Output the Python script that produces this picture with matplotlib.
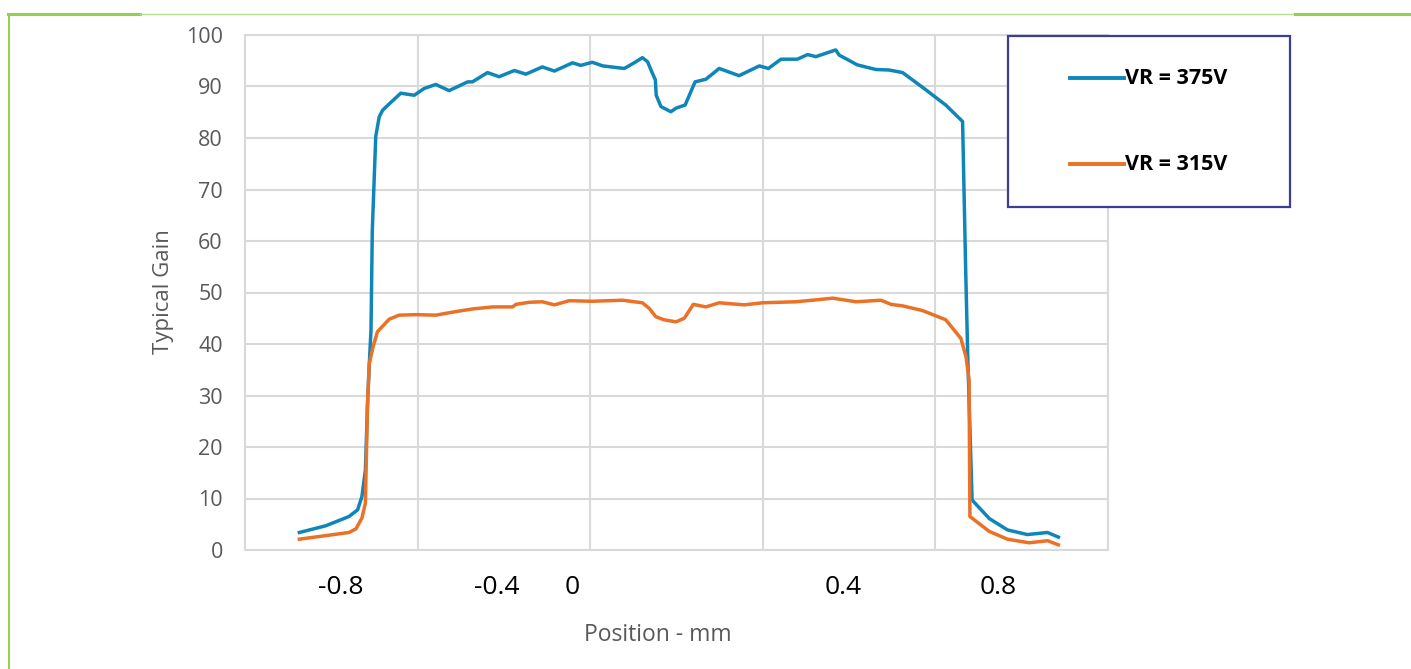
import matplotlib
matplotlib.use("Agg")
import matplotlib.pyplot as plt
from matplotlib.lines import Line2D
from matplotlib.patches import Rectangle

# ---- data (position in mm, gain) ----
x_375 = [-0.674, -0.613, -0.559, -0.539, -0.529, -0.521, -0.516, -0.512, -0.508, -0.505,
         -0.497, -0.489, -0.481, -0.466, -0.439, -0.408, -0.385, -0.358, -0.327, -0.304,
         -0.284, -0.273, -0.238, -0.211, -0.176, -0.149, -0.111, -0.083, -0.041, -0.022,
         0.005, 0.029, 0.079, 0.102, 0.121, 0.133, 0.144, 0.151, 0.153, 0.164,
         0.187, 0.199, 0.220, 0.243, 0.268, 0.299, 0.345, 0.392, 0.413, 0.442,
         0.480, 0.504, 0.523, 0.569, 0.577, 0.619, 0.662, 0.693, 0.724, 0.774,
         0.824, 0.863, 0.870, 0.875, 0.885, 0.925, 0.967, 1.013, 1.060, 1.085]
g_375 = [3.4, 4.7, 6.5, 7.8, 10.4, 15.5, 28.5, 36.0, 42.7, 62.0,
         80.3, 84.1, 85.4, 86.6, 88.7, 88.3, 89.6, 90.4, 89.2, 90.1,
         90.9, 90.9, 92.7, 91.9, 93.1, 92.4, 93.8, 93.0, 94.6, 94.1,
         94.7, 94.0, 93.5, 94.6, 95.6, 94.8, 92.6, 91.3, 88.3, 86.1,
         85.1, 85.8, 86.4, 90.9, 91.4, 93.5, 92.1, 94.0, 93.5, 95.3,
         95.3, 96.2, 95.8, 97.1, 96.1, 94.2, 93.3, 93.2, 92.7, 89.6,
         86.4, 83.2, 55.0, 37.5, 9.7, 6.1, 3.9, 3.0, 3.4, 2.5]

x_315 = [-0.674, -0.559, -0.543, -0.529, -0.521, -0.516, -0.512, -0.503, -0.493, -0.466,
         -0.443, -0.404, -0.358, -0.311, -0.273, -0.226, -0.180, -0.172, -0.141, -0.111,
         -0.083, -0.049, 0.005, 0.075, 0.121, 0.137, 0.152, 0.171, 0.199, 0.218,
         0.239, 0.268, 0.299, 0.357, 0.399, 0.477, 0.515, 0.562, 0.616, 0.674,
         0.697, 0.724, 0.770, 0.824, 0.859, 0.871, 0.878, 0.880, 0.925, 0.967,
         1.017, 1.060, 1.085]
g_315 = [2.1, 3.4, 4.1, 6.2, 9.1, 28.5, 36.2, 39.5, 42.4, 44.8,
         45.6, 45.7, 45.6, 46.3, 46.8, 47.2, 47.2, 47.7, 48.1, 48.2,
         47.6, 48.4, 48.3, 48.5, 48.0, 46.9, 45.3, 44.7, 44.3, 45.0,
         47.7, 47.2, 48.0, 47.6, 48.0, 48.2, 48.5, 48.9, 48.2, 48.5,
         47.7, 47.4, 46.5, 44.7, 41.1, 37.5, 33.0, 6.5, 3.6, 2.1,
         1.4, 1.8, 1.0]

series_labels = ["VR = 375V", "VR = 315V"]
xtick_labels = ["-0.8", "-0.4", "0", "0.4", "0.8"]
xtick_label_pos = [-0.578, -0.216, -0.041, 0.587, 0.946]
y_ticks = list(range(0, 101, 10))

BLUE = "#0f86b9"
ORANGE = "#ea7125"
GRID = "#d9d9d9"
GRAY = "#595959"
GREEN = "#92d050"

W, H = 1411, 669
fig = plt.figure(figsize=(W / 100, H / 100), dpi=100)
fig.patch.set_facecolor("white")

def fx(px):
    return px / W

def fy(py):
    return 1 - py / H

ax = fig.add_axes([fx(245), fy(550), fx(1108) - fx(245), (550 - 35) / H])
ax.plot(x_375, g_375, color=BLUE, lw=2.5, solid_joinstyle="round", zorder=3)
ax.plot(x_315, g_315, color=ORANGE, lw=2.5, solid_joinstyle="round", zorder=3)

ax.set_xlim(-0.8, 1.2)
ax.set_ylim(0, 100)
ax.set_xticks([-0.8, -0.4, 0.0, 0.4, 0.8, 1.2])
ax.set_xticklabels([])
ax.set_yticks(y_ticks)
ax.set_yticklabels([str(v) for v in y_ticks], family="Open Sans", fontsize=15.5, color=GRAY)
ax.tick_params(axis="both", length=0, pad=16)
ax.grid(True, color=GRID, lw=1.5)
ax.set_axisbelow(True)
for s in ax.spines.values():
    s.set_color(GRID)
    s.set_linewidth(1.5)

# x position labels (free-standing text as in the reference)
for lab, pos in zip(xtick_labels, xtick_label_pos):
    ax.text(pos, -7.2, lab, ha="center", va="center", fontsize=19,
            family="Open Sans", color="black", clip_on=False)

fig.text(fx(658), fy(635), "Position - mm", ha="center", va="center",
         family="Open Sans", fontsize=16.5, color=GRAY)
fig.text(fx(163), fy(292), "Typical Gain", ha="center", va="center", rotation=90,
         family="Open Sans", fontsize=16, color=GRAY)

# legend box
fig.patches.append(Rectangle((fx(1008), fy(207)), fx(1290) - fx(1008), (207 - 36) / H,
                             transform=fig.transFigure, facecolor="white",
                             edgecolor="#3d3d99", lw=1.6, zorder=5))
for lab, col, yy in zip(series_labels, [BLUE, ORANGE], [78, 164]):
    fig.add_artist(Line2D([fx(1070), fx(1124)], [fy(yy), fy(yy)], color=col, lw=2.8,
                          transform=fig.transFigure, zorder=6))
    fig.text(fx(1125), fy(yy), lab, ha="left", va="center", family="Open Sans",
             fontweight="bold", fontsize=15.5, color="black", zorder=6)

# green frame
fig.add_artist(Line2D([fx(9), fx(9)], [fy(14), 0], color=GREEN, lw=1.5, transform=fig.transFigure))
fig.add_artist(Line2D([fx(8), fx(140)], [fy(14), fy(14)], color=GREEN, lw=2.2, transform=fig.transFigure))
fig.add_artist(Line2D([fx(140), fx(1295)], [fy(14), fy(14)], color="#b5de8e", lw=1.0, transform=fig.transFigure))
fig.add_artist(Line2D([fx(1295), 1], [fy(14), fy(14)], color=GREEN, lw=2.2, transform=fig.transFigure))

fig.savefig("out.png", dpi=100, facecolor="white")
